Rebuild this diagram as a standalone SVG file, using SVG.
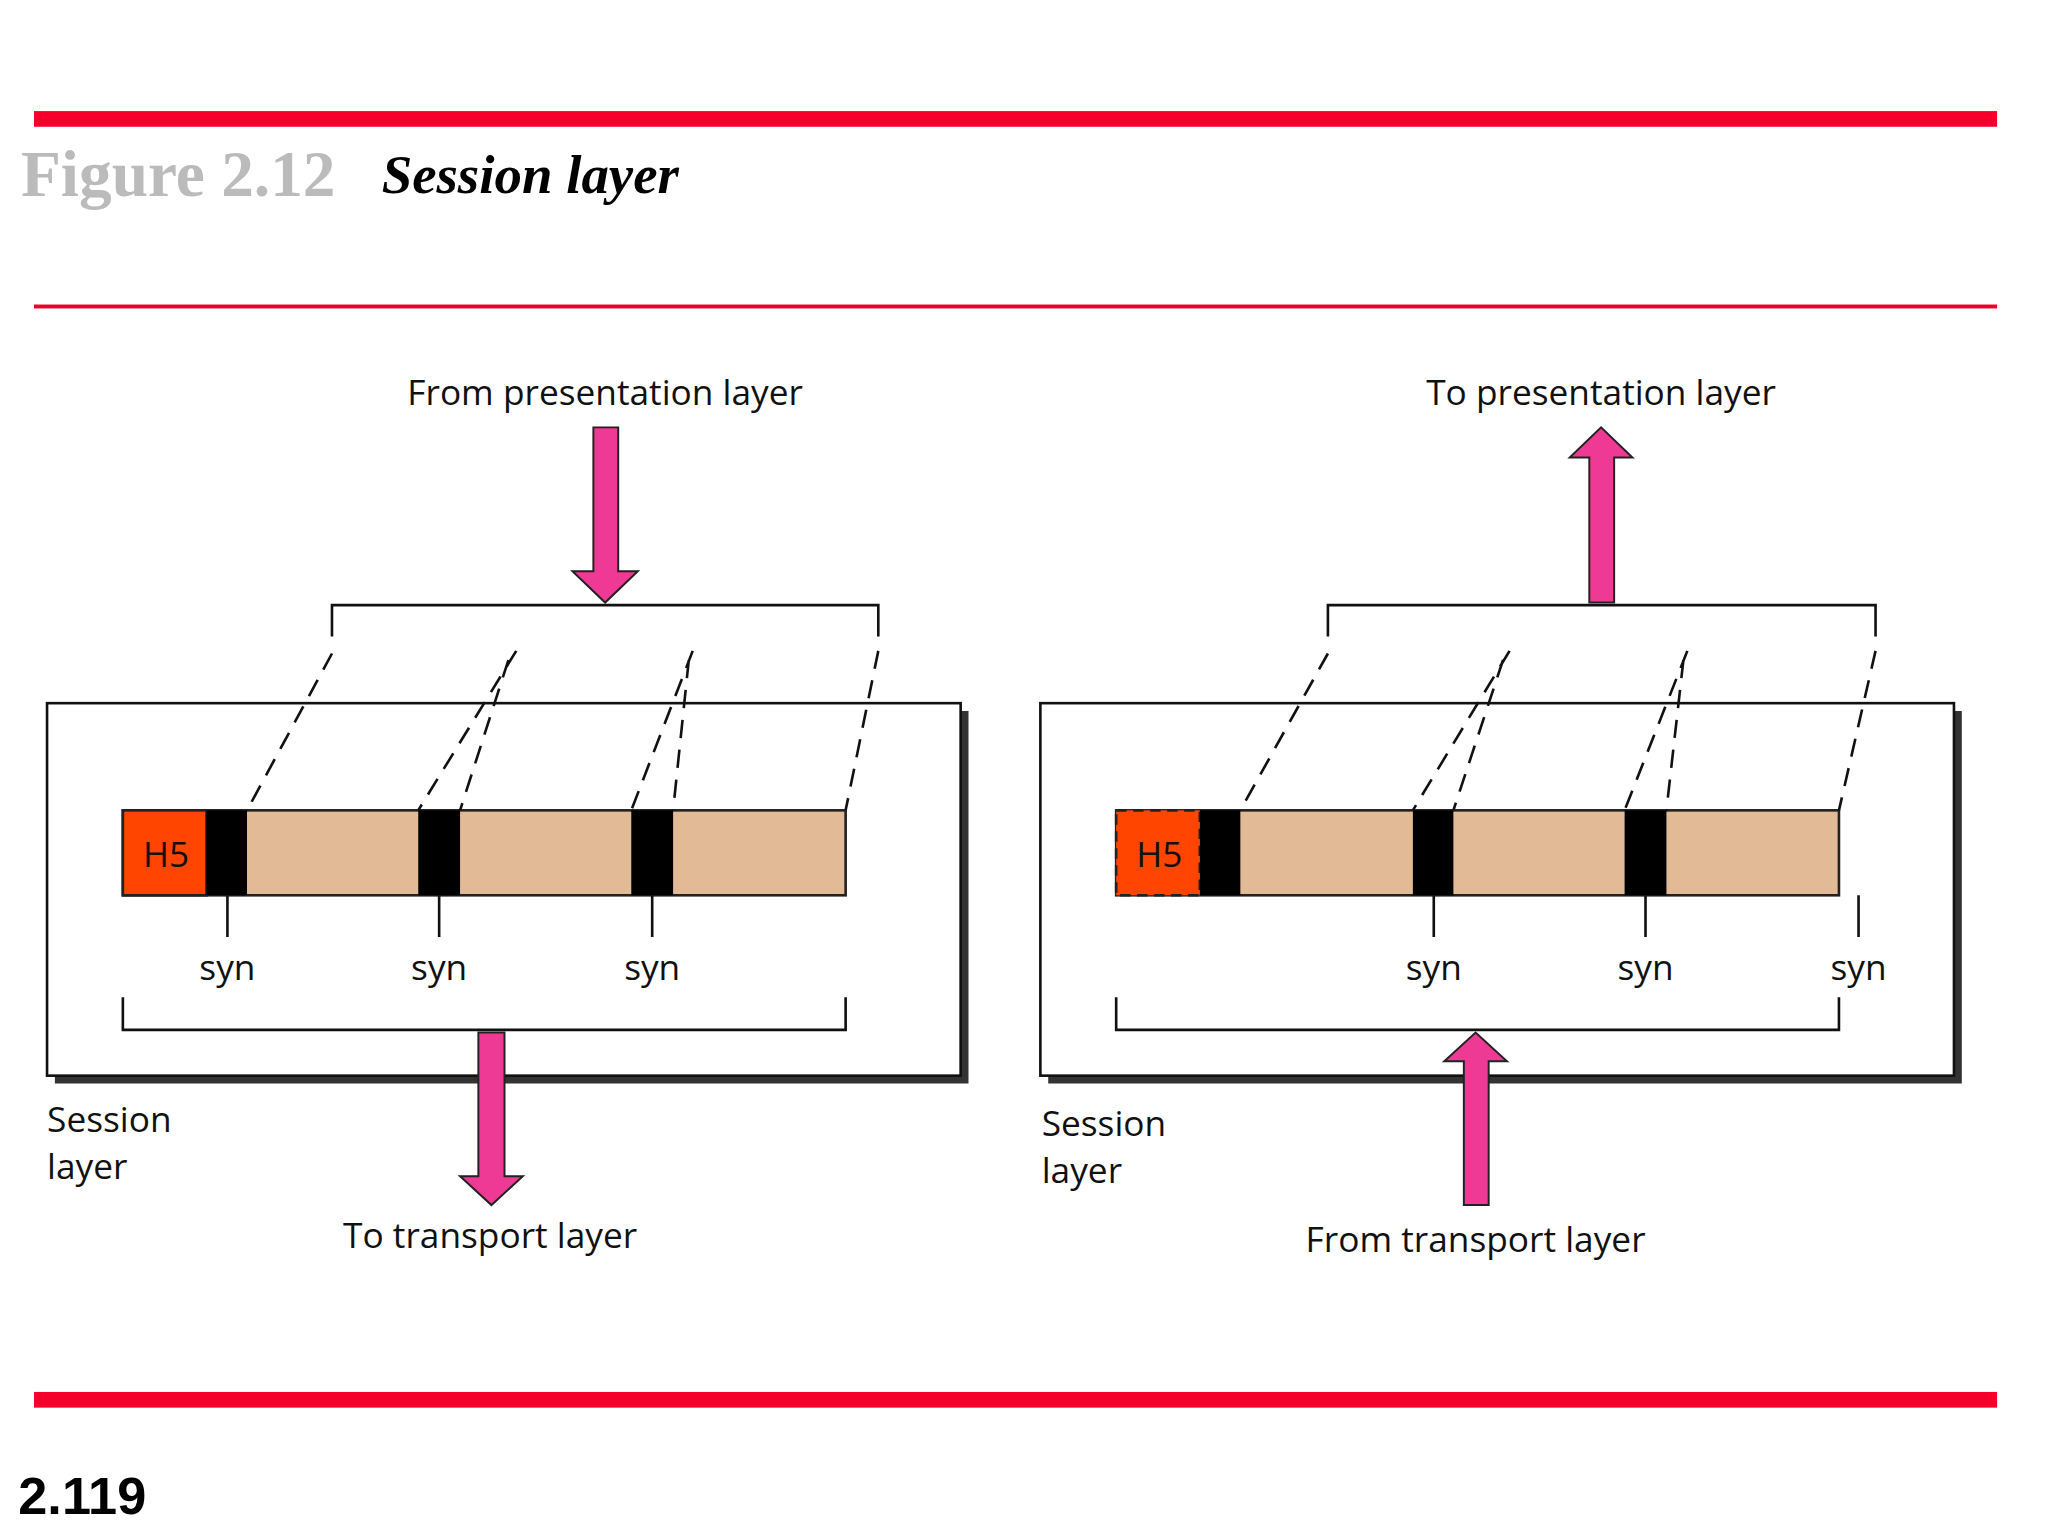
<svg xmlns="http://www.w3.org/2000/svg" width="2048" height="1536" viewBox="0 0 2048 1536">
<style>
.t{font-family:"Open Sans","DejaVu Sans",sans-serif;font-size:27px;fill:#111}
.c{text-anchor:middle}
.ln{stroke:#111;stroke-width:2;fill:none}
.ds{stroke:#111;stroke-width:2;fill:none;stroke-dasharray:14 9}
.arr{fill:#EE3A95;stroke:#222;stroke-width:1.5}
.tan{fill:#E2BB96;stroke:#222;stroke-width:2}
.blk{fill:#000}
</style>
<rect width="2048" height="1536" fill="#fff"/>
<g transform="scale(1.307)">
<g id="header">
<rect x="26" y="85" width="1502" height="12" fill="#F5002A"/>
<rect x="26" y="233" width="1502" height="3" fill="#E8002A"/>
<rect x="26" y="1065" width="1502" height="12" fill="#F5002A"/>
<text x="16" y="150" font-family="Liberation Serif,serif" font-weight="bold" font-size="50" fill="#BBBBBB">Figure 2.12</text>
<text x="292" y="148" font-family="Liberation Serif,serif" font-weight="bold" font-style="italic" font-size="42" fill="#000">Session layer</text>
<text x="14" y="1158" font-family="Liberation Sans,sans-serif" font-weight="bold" font-size="40" fill="#000">2.119</text>
</g>
<g id="left-panel">
<rect x="42" y="544" width="699" height="285" fill="#333"/>
<rect x="36" y="538" width="699" height="285" fill="#fff" stroke="#111" stroke-width="2"/>
<text class="t c" x="463" y="310">From presentation layer</text>
<path class="ln" d="M254 487V463H672V487"/>
<rect class="tan" x="94" y="620" width="553" height="65"/>
<rect x="94" y="620" width="64" height="65" fill="#FF4500" stroke="#222" stroke-width="2"/>
<text class="t c" x="127" y="663">H5</text>
<rect class="blk" x="158" y="620" width="31" height="65"/>
<rect class="blk" x="320" y="620" width="32" height="65"/>
<rect class="blk" x="483" y="620" width="32" height="65"/>
<path class="ln" d="M174 685V717M336 685V717M499 685V717"/>
<text class="t c" x="174" y="750">syn</text>
<text class="t c" x="336" y="750">syn</text>
<text class="t c" x="499" y="750">syn</text>
<path class="ln" d="M94 763V788H647V763"/>
<text class="t" x="36" y="866">Session</text>
<text class="t" x="36" y="902">layer</text>
<text class="t c" x="375" y="955">To transport layer</text>
</g>
<g id="right-panel">
<rect x="802" y="544" width="699" height="285" fill="#333"/>
<rect x="796" y="538" width="699" height="285" fill="#fff" stroke="#111" stroke-width="2"/>
<text class="t c" x="1225" y="310">To presentation layer</text>
<path class="ln" d="M1016 487V463H1435V487"/>
<rect class="tan" x="854" y="620" width="553" height="65"/>
<rect x="854" y="620" width="64" height="65" fill="#FF4500" stroke="#222" stroke-width="2" stroke-dasharray="8 5"/>
<text class="t c" x="887" y="663">H5</text>
<rect class="blk" x="918" y="620" width="31" height="65"/>
<rect class="blk" x="1081" y="620" width="31" height="65"/>
<rect class="blk" x="1243" y="620" width="32" height="65"/>
<path class="ln" d="M1097 685V717M1259 685V717M1422 685V717"/>
<text class="t c" x="1097" y="750">syn</text>
<text class="t c" x="1259" y="750">syn</text>
<text class="t c" x="1422" y="750">syn</text>
<path class="ln" d="M854 763V788H1407V763"/>
<text class="t" x="797" y="869">Session</text>
<text class="t" x="797" y="905">layer</text>
<text class="t c" x="1129" y="958">From transport layer</text>
</g>
<g id="connectors">
<path class="ds" d="M254 500L189 620M395 498L320 620M389 505L352 620M530 498L483 620M527 505L515 620M672 498L647 620"/>
<path class="ds" d="M1016 500L949 620M1155 498L1081 620M1150 505L1112 620M1291 498L1243 620M1288 505L1275 620M1435 498L1407 620"/>
<path class="arr" d="M454 327H473V437H488L463 461L438 437H454Z"/>
<path class="arr" d="M366 790H386V900H400L376 922L352 900H366Z"/>
<path class="arr" d="M1216 461H1235V350H1249L1225 327L1201 350H1216Z"/>
<path class="arr" d="M1120 922H1139V812H1153L1129 790L1105 812H1120Z"/>
</g>
</g>
</svg>
